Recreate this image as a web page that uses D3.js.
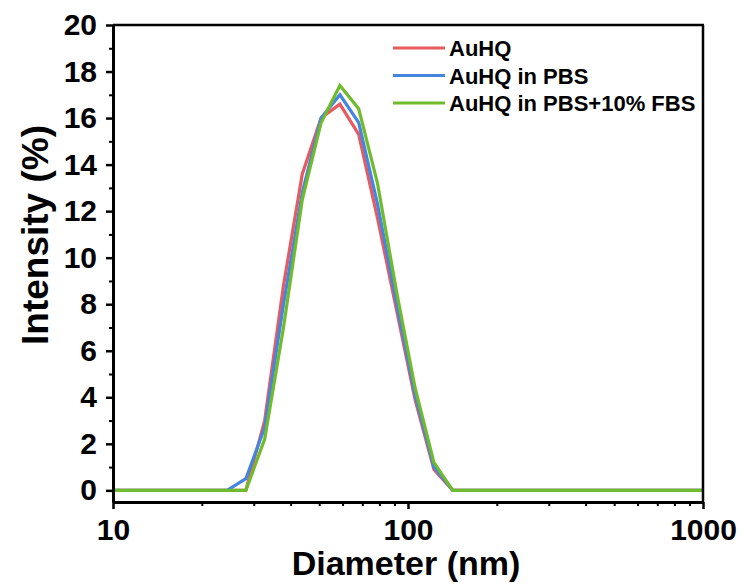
<!DOCTYPE html>
<html><head><meta charset="utf-8">
<script src="https://cdn.jsdelivr.net/npm/d3@7"></script>
<style>body{margin:0;background:#fff}svg{display:block}text{font-family:"Liberation Sans",Arial,sans-serif;font-weight:bold}</style>
</head><body>
<svg id="c" width="742" height="585"></svg>
<script>
const diameters = [10, 24.36, 28.21, 32.67, 37.84, 43.82, 50.75, 58.77, 68.06, 78.82, 91.28, 105.7, 122.4, 141.8, 1000];
const seriesNames = ["AuHQ", "AuHQ in PBS", "AuHQ in PBS+10% FBS"];
const auhq       = [0, 0, 0,   3.0, 8.8, 13.6, 16.0, 16.6, 15.3, 11.7, 7.8, 3.9, 0.9, 0, 0];
const auhqPBS    = [0, 0, 0.5, 2.7, 8.0, 12.8, 16.0, 17.0, 15.8, 12.3, 8.1, 4.1, 1.0, 0, 0];
const auhqPBSFBS = [0, 0, 0,   2.2, 7.0, 12.5, 15.8, 17.4, 16.4, 13.2, 8.6, 4.4, 1.2, 0, 0];
const colors = ["#e85a5e", "#4585e2", "#70bb2c"];
const yTicks = [0, 2, 4, 6, 8, 10, 12, 14, 16, 18, 20];
const xTicks = [10, 100, 1000];

const svg = d3.select("#c");
const L = 113, R = 703, T = 25, B = 502;
const x = d3.scaleLog().domain([10, 1000]).range([L, R]);
const y = d3.scaleLinear().domain([-0.5, 20]).range([B, T]);

const series = [auhq, auhqPBS, auhqPBSFBS];
const line = d3.line().x(d => x(d[0])).y(d => y(d[1]));
series.forEach((s, i) => {
  svg.append("path").datum(diameters.map((d, j) => [d, s[j]]))
    .attr("d", line).attr("fill", "none").attr("stroke", colors[i])
    .attr("stroke-width", 3.2).attr("stroke-linejoin", "miter");
});

// frame
svg.append("line").attr("x1", L).attr("x2", R + 1).attr("y1", T).attr("y2", T).attr("stroke", "#000").attr("stroke-width", 2.5);
svg.append("line").attr("x1", R).attr("x2", R).attr("y1", T).attr("y2", B).attr("stroke", "#000").attr("stroke-width", 2.5);

// y axis
const yAxis = svg.append("g").attr("transform", `translate(${L},0)`)
  .call(d3.axisLeft(y).tickValues(yTicks).tickSize(7).tickPadding(9).tickSizeOuter(0));
const yMinor = svg.append("g").attr("transform", `translate(${L},0)`)
  .call(d3.axisLeft(y).tickValues(d3.range(1, 20, 2)).tickSize(4).tickFormat("").tickSizeOuter(0));
yMinor.select(".domain").remove();

// x axis
const xAxis = svg.append("g").attr("transform", `translate(0,${B})`)
  .call(d3.axisBottom(x).tickValues(xTicks).tickFormat(d3.format("d")).tickSize(7).tickPadding(10).tickSizeOuter(0));
const minorX = [];
[10, 100].forEach(b => { for (let k = 2; k <= 9; k++) minorX.push(b * k); });
const xMinor = svg.append("g").attr("transform", `translate(0,${B})`)
  .call(d3.axisBottom(x).tickValues(minorX).tickSize(4).tickFormat("").tickSizeOuter(0));
xMinor.select(".domain").remove();

[yAxis, xAxis].forEach(g => {
  g.select(".domain").attr("stroke-width", 3);
  g.selectAll(".tick line").attr("stroke-width", 2.5);
  g.selectAll(".tick text").attr("font-size", 30).attr("font-family", "Liberation Sans, Arial, sans-serif").attr("font-weight", "bold").attr("fill", "#000");
});
[yMinor, xMinor].forEach(g => g.selectAll(".tick line").attr("stroke-width", 2));

// axis titles
svg.append("text").attr("x", 406).attr("y", 575).attr("text-anchor", "middle")
  .attr("font-size", 34).text("Diameter (nm)");
svg.append("text").attr("transform", `translate(48,235) rotate(-90)`).attr("text-anchor", "middle")
  .attr("font-size", 37).text("Intensity (%)");

// legend
const lg = svg.append("g");
seriesNames.forEach((n, i) => {
  const yy = 48 + i * 27.5;
  lg.append("line").attr("x1", 393).attr("x2", 445).attr("y1", yy).attr("y2", yy)
    .attr("stroke", colors[i]).attr("stroke-width", 3);
  lg.append("text").attr("x", 449).attr("y", yy + 8).attr("font-size", 22).text(n);
});
</script>
</body></html>
